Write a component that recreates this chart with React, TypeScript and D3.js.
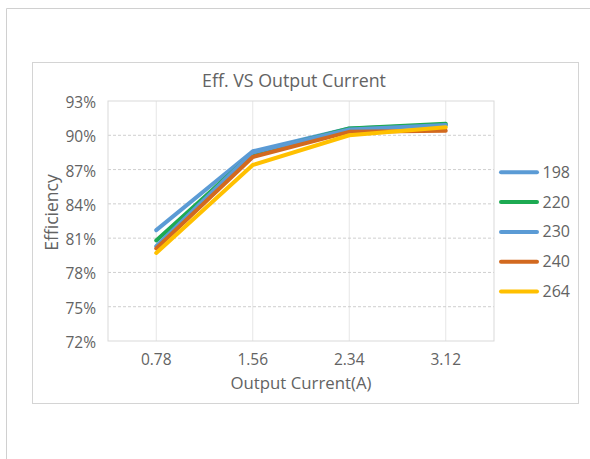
import React from "react";
import * as d3 from "d3";

const categories = ["0.78", "1.56", "2.34", "3.12"];
const seriesNames = ["198", "220", "230", "240", "264"];
const s198 = [81.7, 88.6, 90.6, 90.9];
const s220 = [80.8, 88.4, 90.6, 91.0];
const s230 = [80.3, 88.5, 90.5, 90.9];
const s240 = [80.1, 88.1, 90.3, 90.4];
const s264 = [79.7, 87.4, 90.0, 90.7];
const seriesValues = [s198, s220, s230, s240, s264];
const seriesColors = ["#5B9BD5", "#1DAA52", "#5B9BD5", "#D2691F", "#FFC000"];
const yTicks = [72, 75, 78, 81, 84, 87, 90, 93];

const W = 590;
const H = 459;
const plot = { left: 108, right: 494, top: 101, bottom: 341 };
const font = "'Open Sans', 'Noto Sans', sans-serif";
const textColor = "#636363";

export default function App() {
  const x = d3
    .scalePoint<string>()
    .domain(categories)
    .range([plot.left, plot.right])
    .padding(0.5);
  const y = d3.scaleLinear().domain([72, 93]).range([plot.bottom, plot.top]);
  const line = d3
    .line<number>()
    .x((_, i) => x(categories[i]) as number)
    .y((d) => y(d));

  return (
    <svg
      width={W}
      height={H}
      style={{ position: "absolute", left: 0, top: 0, background: "#fff" }}
      fontFamily={font}
    >
      <rect x={0} y={0} width={W} height={H} fill="#fff" />
      {/* outer page border */}
      <path d={`M6.5,${H + 2} V8.5 H${W + 2}`} fill="none" stroke="#d0d0d0" strokeWidth={1} />
      {/* chart area border */}
      <rect x={32.5} y={62.5} width={546} height={341} fill="#fff" stroke="#d4d4d4" strokeWidth={1} />
      {/* title */}
      <text x={294} y={86.5} textAnchor="middle" fontSize={17.8} fill={textColor}>
        Eff. VS Output Current
      </text>
      {/* vertical gridlines */}
      {categories.map((c) => (
        <line
          key={"v" + c}
          x1={x(c)}
          x2={x(c)}
          y1={plot.top}
          y2={plot.bottom}
          stroke="#e6e6e6"
          strokeWidth={1}
        />
      ))}
      {/* horizontal dashed gridlines */}
      {yTicks
        .filter((t) => t !== 72 && t !== 93)
        .map((t) => (
          <line
            key={"h" + t}
            x1={plot.left}
            x2={plot.right}
            y1={y(t)}
            y2={y(t)}
            stroke="#cfcfcf"
            strokeWidth={1}
            strokeDasharray="3,2"
          />
        ))}
      {/* plot border */}
      <rect
        x={plot.left}
        y={plot.top}
        width={plot.right - plot.left}
        height={plot.bottom - plot.top}
        fill="none"
        stroke="#d9d9d9"
        strokeWidth={1}
      />
      {/* y tick labels */}
      {yTicks.map((t) => (
        <text
          key={"yt" + t}
          x={96}
          y={y(t) + 7}
          textAnchor="end"
          fontSize={15.5}
          fill={textColor}
        >
          {t + "%"}
        </text>
      ))}
      {/* x tick labels */}
      {categories.map((c) => (
        <text
          key={"xt" + c}
          x={x(c)}
          y={364.5}
          textAnchor="middle"
          fontSize={15.5}
          fill={textColor}
        >
          {c}
        </text>
      ))}
      {/* axis titles */}
      <text x={301} y={388.5} textAnchor="middle" fontSize={16.8} fill={textColor}>
        Output Current(A)
      </text>
      <text
        transform={`translate(58,212.5) rotate(-90)`}
        textAnchor="middle"
        fontSize={17.5}
        fill={textColor}
      >
        Efficiency
      </text>
      {/* series lines */}
      {seriesValues.map((vals, i) => (
        <path
          key={"s" + seriesNames[i]}
          d={line(vals) || ""}
          fill="none"
          stroke={seriesColors[i]}
          strokeWidth={4}
          strokeLinejoin="round"
          strokeLinecap="round"
        />
      ))}
      {/* legend */}
      {seriesNames.map((n, i) => {
        const ly = 172.3 + i * 29.8;
        return (
          <g key={"lg" + n}>
            <line
              x1={501}
              x2={537}
              y1={ly}
              y2={ly}
              stroke={seriesColors[i]}
              strokeWidth={4}
              strokeLinecap="round"
            />
            <text x={542.5} y={ly + 5.5} fontSize={16} fill={textColor}>
              {n}
            </text>
          </g>
        );
      })}
    </svg>
  );
}
